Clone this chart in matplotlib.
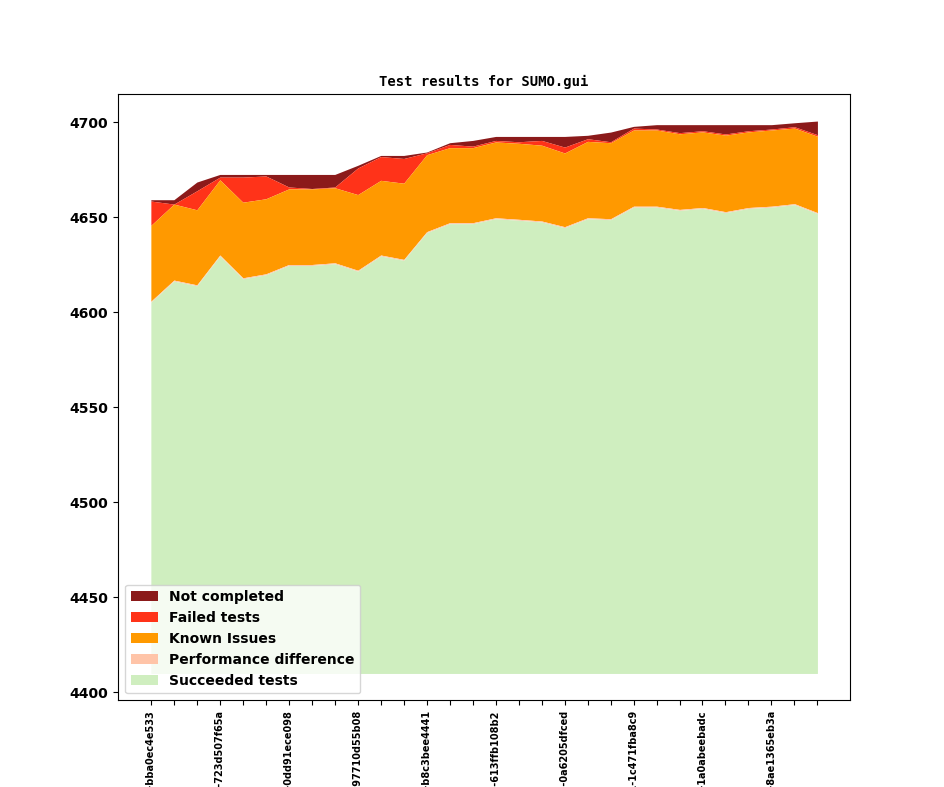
import numpy as np
import matplotlib
matplotlib.use("Agg")
import matplotlib.pyplot as plt

# totals (top of each band)
succeeded = [4605.4, 4616.5, 4614, 4629.7, 4617.7, 4619.8, 4624.7, 4624.7, 4625.6, 4621.7,
             4629.7, 4627.4, 4642, 4646.7, 4646.7, 4649.3, 4648.5, 4647.6, 4644.6, 4649.3,
             4648.8, 4655.4, 4655.4, 4653.7, 4654.7, 4652.5, 4654.7, 4655.4, 4656.7, 4652]
orange_top = [4645.8, 4657, 4654, 4669.8, 4658, 4659.8, 4665, 4665, 4665.6, 4662,
              4669.5, 4668, 4683, 4686.7, 4686.7, 4689.7, 4689, 4688, 4683.9, 4690,
              4689.3, 4696, 4696, 4694, 4695, 4693.3, 4695, 4696, 4697, 4692.7]
failed_top = [4658.6, 4657, 4664, 4671.2, 4671.2, 4671.8, 4666, 4665.2, 4666, 4676,
              4682, 4681, 4684, 4688.4, 4687.5, 4690.5, 4689.8, 4690.5, 4687, 4691.4,
              4689.8, 4697, 4696.5, 4694.6, 4695.6, 4693.9, 4695.6, 4696.5, 4697.7, 4693.5]
total = [4659.3, 4659.3, 4668.6, 4672.6, 4672.6, 4672.6, 4672.6, 4672.6, 4672.6, 4677.4,
         4682.6, 4682.6, 4684.4, 4689.3, 4690.5, 4692.6, 4692.6, 4692.6, 4692.6, 4693.2,
         4694.9, 4697.9, 4698.8, 4698.8, 4698.8, 4698.8, 4698.8, 4698.8, 4699.8, 4700.7]
perf = 0.5

hashes = ["bba0ec4e533", "723d507f65a", "0dd91ece098", "97710d55b08", "b8c3bee4441",
          "613ffb108b2", "0a6205dfced", "1c471fba8c9", "1a0abeebadc", "8ae1365eb3a"]

x = np.arange(len(total))
succ = np.array(succeeded)
perf_top = succ + perf
known_top = np.maximum(np.array(orange_top), perf_top)
fail_top = np.maximum(np.array(failed_top), known_top)
tot = np.maximum(np.array(total), fail_top)
base = 4410

fig, ax = plt.subplots(figsize=(9.44, 7.87), dpi=100)
fig.subplots_adjust(left=0.125, right=0.9, top=0.88, bottom=0.11)

ax.fill_between(x, fail_top, tot, color="#8b1a1a", lw=0, label="Not completed")
ax.fill_between(x, known_top, fail_top, color="#ff3319", lw=0, label="Failed tests")
ax.fill_between(x, perf_top, known_top, color="#ff9900", lw=0, label="Known Issues")
ax.fill_between(x, succ, perf_top, color="#ffc4a8", lw=0, label="Performance difference")
ax.fill_between(x, base, succ, color="#cfeebf", lw=0, label="Succeeded tests")

ax.set_xlim(-1.43, 30.4)
ax.set_ylim(4395.8, 4714.7)
ax.set_xticks(x)
labels = [""] * len(x)
for k, h in enumerate(hashes):
    labels[k * 3] = "v1_20_0+0%03d-%s" % (100 + k * 3, h)
ax.set_xticklabels(labels, rotation=90, fontsize=7, fontweight="bold")
for t in ax.get_yticklabels():
    t.set_fontweight("bold")
ax.set_title("Test results for SUMO.gui", fontsize=10, fontweight="bold", family="monospace")
leg = ax.legend(loc="lower left", prop={"weight": "bold", "size": 10})

fig.savefig("out.png")
